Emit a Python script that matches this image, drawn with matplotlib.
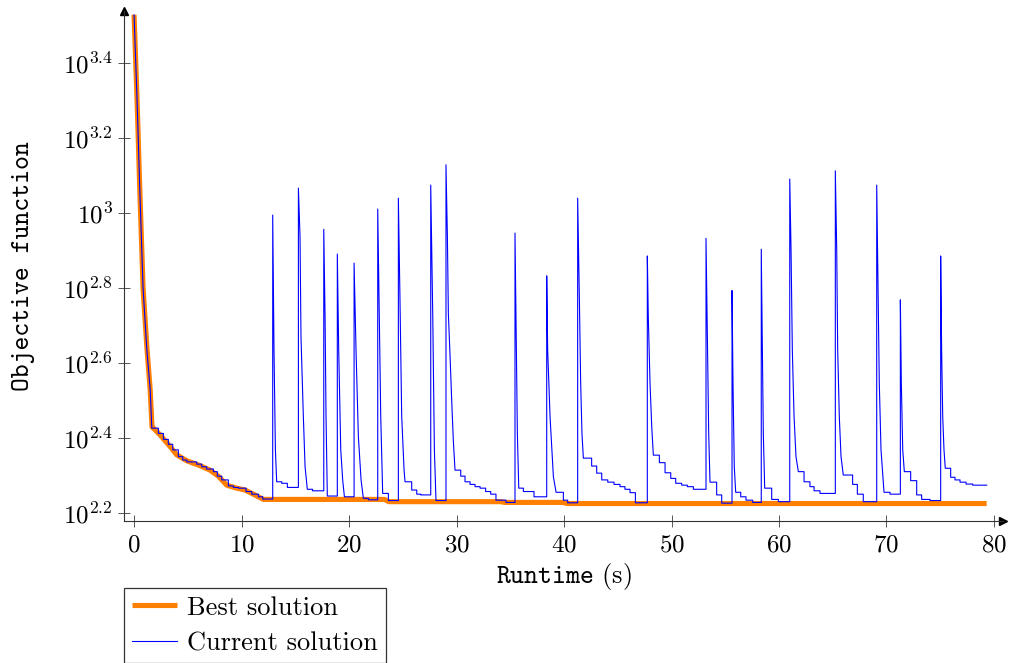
import matplotlib
matplotlib.use("Agg")
import matplotlib.pyplot as plt
import numpy as np

plt.rcParams['font.family'] = ['cmr10']
plt.rcParams['mathtext.fontset'] = 'cm'
plt.rcParams['axes.formatter.use_mathtext'] = True

# Meilleure solution (exposant log10 de la fonction objectif)
best_time = [0, 0.28, 0.56, 0.84, 1.2, 1.5, 1.67, 1.80, 2.42, 3.35, 3.97, 4.90,
             6.14, 7.07, 7.84, 8.62, 9.55, 10.33, 11.1, 12.04, 23.3, 23.7,
             34.1, 34.5, 39.9, 40.3, 79.32]
best_log = [3.529, 3.302, 3.04, 2.80, 2.64, 2.53, 2.43, 2.427, 2.409, 2.378, 2.356, 2.340,
            2.327, 2.315, 2.299, 2.275, 2.267, 2.262, 2.251, 2.237, 2.237, 2.231,
            2.231, 2.229, 2.229, 2.226, 2.226]

# Solution courante
current_time = [
    0, 0.28, 0.56, 0.84, 1.18, 1.5, 1.65, 2.26, 2.73, 3.19, 3.60, 4.12, 4.53, 4.92,
    5.83, 6.30, 6.76, 7.38, 7.75, 8.16, 8.77, 9.24, 9.70, 10.42, 10.95, 11.57, 11.97,
    12.90, 13.02, 13.15, 13.27, 13.74, 14.26,
    15.29, 15.44, 15.53, 15.75, 15.91, 16.12, 16.6,
    17.65, 17.77, 17.86, 17.98,
    18.91, 19.04, 19.23, 19.41, 19.57,
    20.47, 20.65, 20.87, 21.12, 21.33, 21.80,
    22.67, 22.82, 22.95, 23.13, 23.66,
    24.59, 24.74, 24.90, 25.12, 25.21, 25.83, 26.30, 26.67,
    27.60, 27.79, 27.94, 28.09,
    29.02, 29.15, 29.24, 29.40, 29.55, 29.70, 29.86, 30.39, 30.79, 31.26, 31.72,
    32.19, 32.71, 33.18, 33.67, 34.60,
    35.44, 35.53, 35.66, 35.79, 36.22, 37.21,
    38.39, 38.48, 38.70, 39.01, 39.26, 39.94, 40.34,
    41.27, 41.43, 41.55, 41.67, 41.80, 42.57, 43.04, 43.51, 44.07, 44.65, 45.21,
    45.67, 46.14, 46.64,
    47.75, 47.84, 48.00, 48.16, 48.31, 48.87, 49.40, 49.93, 50.39, 50.95, 51.47, 52.03,
    53.21, 53.33, 53.46, 53.58, 54.20, 54.67,
    55.63, 55.72, 55.84, 55.97, 56.44, 56.93, 57.55,
    58.35, 58.45, 58.54, 58.67, 59.32, 59.94,
    61.00, 61.12, 61.24, 61.40, 61.58, 61.80, 62.33, 62.88, 63.26, 63.81,
    65.24, 65.37, 65.46, 65.61, 65.77, 65.98, 66.85, 67.29, 67.84,
    69.09, 69.21, 69.33, 69.49, 69.77, 70.33,
    71.29, 71.38, 71.51, 71.66, 72.25, 72.81, 73.27, 74.05,
    75.04, 75.13, 75.23, 75.35, 75.47, 75.97, 76.37, 76.84, 77.40, 78.02, 79.32]
current_log = [
    3.529, 3.302, 3.04, 2.80, 2.64, 2.53, 2.427, 2.413, 2.397, 2.384, 2.369, 2.351, 2.342, 2.337,
    2.331, 2.324, 2.318, 2.311, 2.299, 2.289, 2.273, 2.269, 2.267, 2.258, 2.251, 2.244, 2.238,
    2.995, 2.635, 2.369, 2.284, 2.280, 2.269,
    3.067, 2.938, 2.671, 2.458, 2.324, 2.264, 2.260,
    2.957, 2.724, 2.458, 2.246,
    2.891, 2.635, 2.369, 2.289, 2.244,
    2.867, 2.635, 2.404, 2.289, 2.240, 2.236,
    3.011, 2.724, 2.458, 2.253, 2.234,
    3.040, 2.769, 2.458, 2.315, 2.284, 2.262, 2.251, 2.249,
    3.075, 2.724, 2.369, 2.234,
    3.129, 2.938, 2.733, 2.618, 2.502, 2.395, 2.315, 2.299, 2.284, 2.277, 2.271,
    2.267, 2.258, 2.251, 2.235, 2.229,
    2.947, 2.724, 2.413, 2.267, 2.258, 2.244,
    2.833, 2.635, 2.458, 2.298, 2.256, 2.235, 2.228,
    3.040, 2.769, 2.547, 2.413, 2.347, 2.326, 2.307, 2.289, 2.283, 2.277, 2.271,
    2.264, 2.255, 2.228,
    2.886, 2.724, 2.547, 2.431, 2.355, 2.335, 2.308, 2.293, 2.280, 2.275, 2.271, 2.264,
    2.933, 2.680, 2.413, 2.283, 2.249, 2.227,
    2.794, 2.547, 2.324, 2.256, 2.244, 2.235, 2.229,
    2.904, 2.635, 2.413, 2.267, 2.237, 2.231,
    3.091, 2.902, 2.635, 2.458, 2.351, 2.311, 2.284, 2.271, 2.260, 2.253,
    3.113, 2.902, 2.635, 2.458, 2.351, 2.302, 2.277, 2.251, 2.231,
    3.075, 2.813, 2.547, 2.369, 2.256, 2.251,
    2.769, 2.547, 2.369, 2.311, 2.287, 2.249, 2.237, 2.234,
    2.886, 2.635, 2.458, 2.369, 2.320, 2.296, 2.289, 2.283, 2.278, 2.275, 2.275]

ytick_exp = [2.2, 2.4, 2.6, 2.8, 3.0, 3.2, 3.4]
ytick_labels = [r'$10^{2.2}$', r'$10^{2.4}$', r'$10^{2.6}$', r'$10^{2.8}$',
                r'$10^{3}$', r'$10^{3.2}$', r'$10^{3.4}$']
xticks = [0, 10, 20, 30, 40, 50, 60, 70, 80]

# chemin de la solution courante : marches pour les sauts et les paliers,
# segments droits pendant la décroissance rapide
t = np.array(current_time)
v = 10 ** np.array(current_log)
cx, cy = [t[0]], [v[0]]
for i in range(1, len(t)):
    if v[i] > v[i - 1] or t[i] - t[i - 1] > 0.36:
        cx.append(t[i])
        cy.append(v[i - 1])
    cx.append(t[i])
    cy.append(v[i])

fig = plt.figure(figsize=(10.11, 6.63), dpi=100)
ax = fig.add_axes([0.1227, 0.2142, 0.8694, 0.7692])

ax.plot(best_time, 10 ** np.array(best_log), color='#ff8000', lw=3.7,
        label='Best solution', zorder=2, solid_capstyle='butt')
ax.plot(cx, cy, color='#0000ff', lw=0.8, label='Current solution', zorder=3)

ax.set_yscale('log')
ax.set_xlim(-0.93, 80.84)
ax.set_ylim(10 ** 2.1795, 10 ** 3.539)
ax.set_yticks([10 ** e for e in ytick_exp])
ax.set_yticklabels(ytick_labels)
ax.yaxis.set_minor_locator(matplotlib.ticker.NullLocator())
ax.set_xticks(xticks)
ax.set_xticklabels([rf'${x}$' for x in xticks])

for s in ['top', 'right']:
    ax.spines[s].set_visible(False)
for s in ['left', 'bottom']:
    ax.spines[s].set_linewidth(0.8)
    ax.spines[s].set_color('#333333')
ax.tick_params(direction='inout', length=8, width=0.7, color='#555555',
               labelsize=18, pad=4)
ax.tick_params(axis='x', pad=6)

# flèches des axes
ax.plot(1, 0, '>', color='black', markersize=5.5, transform=ax.transAxes, clip_on=False)
ax.plot(0, 1, '^', color='black', markersize=5.5, transform=ax.transAxes, clip_on=False)

ax.set_xlabel(r'$\mathtt{Runtime}$ (s)', fontsize=19, labelpad=3)
ax.set_ylabel('Objective function', fontfamily='cmtt10', fontsize=19, labelpad=20)

leg = fig.legend(loc='upper left', bbox_to_anchor=(0.1227, 0.1131),
                 prop={'family': 'cmr10', 'size': 19}, frameon=True,
                 fancybox=False, edgecolor='black', borderaxespad=0,
                 handlelength=1.7, handletextpad=0.4, borderpad=0.3,
                 labelspacing=0.45)
leg.get_frame().set_linewidth(0.9)

fig.savefig('out.png', dpi=100)
